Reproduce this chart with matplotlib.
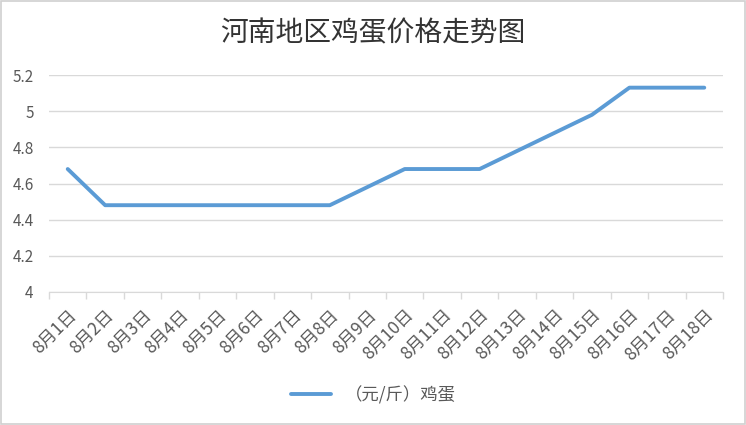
import matplotlib
matplotlib.use('Agg')
import matplotlib.pyplot as plt
import matplotlib.patches as patches
import numpy as np

plt.rcParams['font.family'] = ['Noto Sans CJK SC', 'DejaVu Sans']

# Données
dates = ['8月%d日' % i for i in range(1, 19)]
prix = [4.68, 4.48, 4.48, 4.48, 4.48, 4.48, 4.48, 4.48, 4.58,
        4.68, 4.68, 4.68, 4.78, 4.88, 4.98, 5.13, 5.13, 5.13]
y_ticks = [4, 4.2, 4.4, 4.6, 4.8, 5, 5.2]
y_labels = ['4', '4.2', '4.4', '4.6', '4.8', '5', '5.2']
titre = '河南地区鸡蛋价格走势图'
serie = '（元/斤）鸡蛋'

bleu = '#5B9BD5'
gris = '#595959'
gris_clair = '#D9D9D9'

fig = plt.figure(figsize=(7.46, 4.25), dpi=100)
ax = fig.add_axes([49/746, 133/425, 674/746, 217/425])

x = np.arange(len(dates))
ax.plot(x, prix, color=bleu, lw=2.8, solid_capstyle='round', label=serie)

ax.set_xlim(-0.5, len(dates) - 0.5)
ax.set_ylim(4, 5.2)
ax.set_yticks(y_ticks)
ax.set_yticklabels(y_labels, color=gris, fontsize=11)
ax.tick_params(axis='y', length=0, pad=11)
ax.grid(axis='y', color=gris_clair, lw=1)
ax.set_axisbelow(True)

# Categories: labels au centre, traits aux limites
ax.set_xticks(x)
ax.set_xticklabels(dates, rotation=45, ha='right', va='top', rotation_mode='anchor',
                   color=gris, fontsize=12.5)
ax.tick_params(axis='x', which='major', length=0, pad=10)
ax.set_xticks(np.arange(-0.5, len(dates)), minor=True)
ax.tick_params(axis='x', which='minor', length=5, color=gris_clair, width=1)

for s in ['top', 'right', 'left']:
    ax.spines[s].set_visible(False)
ax.spines['bottom'].set_color(gris_clair)

fig.text(0.5, 1 - 33/425, titre, ha='center', va='center', fontsize=20, color='#333333')

fig.legend(loc='center', bbox_to_anchor=(0.5, 1 - 395/425), frameon=False,
           fontsize=12.5, labelcolor=gris, handlelength=2.3, handletextpad=0.8)

# cadre
fig.patches.append(patches.Rectangle((0.001, 0.002), 0.997, 0.995, transform=fig.transFigure,
                                     fill=False, edgecolor='#D0D0D0', lw=1.2))

fig.savefig('out.png', dpi=100)
